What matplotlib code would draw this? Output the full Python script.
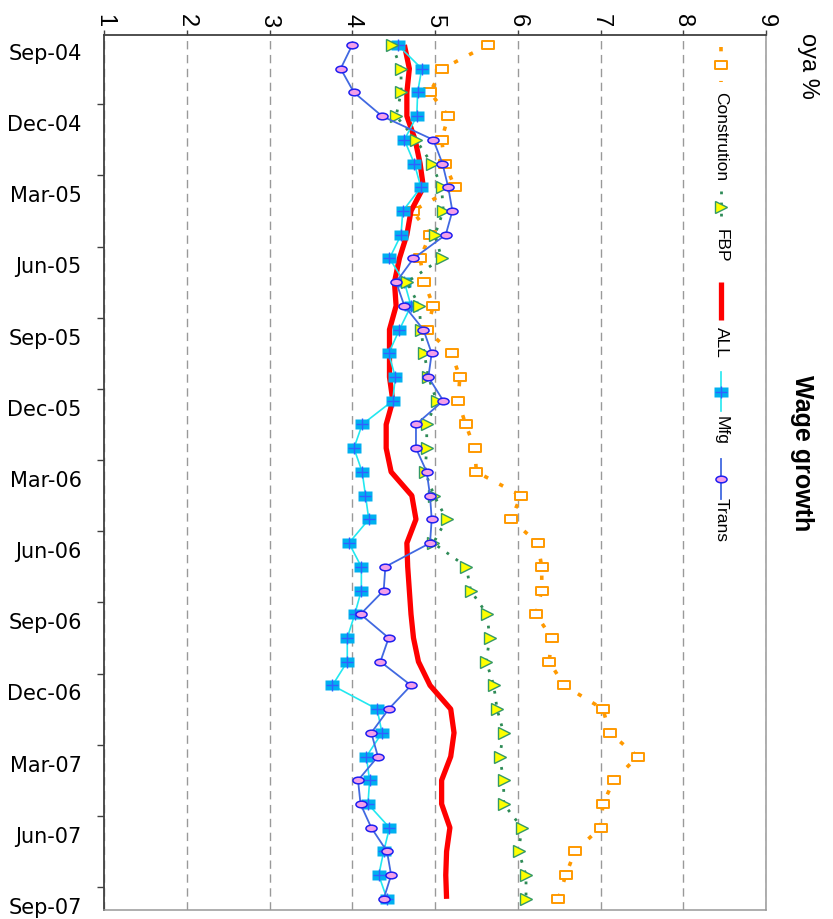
import numpy as np
import matplotlib
matplotlib.use("Agg")
import matplotlib.pyplot as plt
from matplotlib import font_manager
from matplotlib.path import Path
from matplotlib.transforms import Affine2D, ScaledTranslation

# monthly, Sep-04 .. Sep-07
months = ["Sep-04", "Oct-04", "Nov-04", "Dec-04", "Jan-05", "Feb-05", "Mar-05",
          "Apr-05", "May-05", "Jun-05", "Jul-05", "Aug-05", "Sep-05", "Oct-05",
          "Nov-05", "Dec-05", "Jan-06", "Feb-06", "Mar-06", "Apr-06", "May-06",
          "Jun-06", "Jul-06", "Aug-06", "Sep-06", "Oct-06", "Nov-06", "Dec-06",
          "Jan-07", "Feb-07", "Mar-07", "Apr-07", "May-07", "Jun-07", "Jul-07",
          "Aug-07", "Sep-07"]

constr = [5.64, 5.09, 4.94, 5.16, 5.08, 5.12, 5.24, 4.73, 4.94, 4.82, 4.87, 4.98,
          4.90, 5.20, 5.30, 5.28, 5.37, 5.48, 5.50, 6.04, 5.92, 6.24, 6.29, 6.29,
          6.22, 6.41, 6.38, 6.56, 7.03, 7.11, 7.45, 7.16, 7.03, 7.00, 6.69, 6.58,
          6.49]
fbp = [4.48, 4.59, 4.59, 4.53, 4.77, 4.96, 5.08, 5.10, 5.00, 5.08, 4.66, 4.81,
       4.83, 4.87, 4.92, 5.02, 4.90, 4.90, 4.88, 4.99, 5.14, 4.98, 5.38, 5.43,
       5.63, 5.66, 5.62, 5.71, 5.75, 5.83, 5.78, 5.83, 5.83, 6.05, 6.01, 6.10,
       6.10]
all_ = [4.63, 4.69, 4.66, 4.66, 4.76, 4.82, 4.86, 4.71, 4.66, 4.57, 4.51, 4.53,
        4.45, 4.45, 4.45, 4.49, 4.41, 4.41, 4.47, 4.72, 4.77, 4.66, 4.67, 4.69,
        4.71, 4.74, 4.80, 4.94, 5.19, 5.23, 5.19, 5.08, 5.08, 5.18, 5.14, 5.13,
        5.14]
mfg = [4.55, 4.84, 4.79, 4.78, 4.63, 4.75, 4.83, 4.61, 4.59, 4.45, 4.63, 4.71,
       4.57, 4.44, 4.52, 4.49, 4.12, 4.02, 4.12, 4.16, 4.20, 3.96, 4.11, 4.11,
       4.03, 3.94, 3.94, 3.76, 4.30, 4.36, 4.17, 4.21, 4.19, 4.45, 4.38, 4.32,
       4.42]
trans = [4.00, 3.86, 4.02, 4.36, 4.98, 5.09, 5.16, 5.21, 5.13, 4.74, 4.53, 4.63,
         4.86, 4.96, 4.92, 5.10, 4.77, 4.77, 4.90, 4.94, 4.96, 4.94, 4.40, 4.38,
         4.10, 4.44, 4.34, 4.71, 4.44, 4.23, 4.31, 4.07, 4.10, 4.23, 4.42, 4.47,
         4.38]

value_ticks = [1, 2, 3, 4, 5, 6, 7, 8, 9]


def pick_font(*names):
    for n in names:
        try:
            font_manager.findfont(font_manager.FontProperties(family=n),
                                  fallback_to_default=False)
            return n
        except ValueError:
            pass
    return "DejaVu Sans"


narrow = pick_font("Liberation Sans Narrow", "Liberation Sans", "DejaVu Sans")

# custom marker shapes
ellipse = Path.unit_circle().transformed(Affine2D().scale(1.0, 0.6))
rect = Path.unit_rectangle().transformed(Affine2D().translate(-0.5, -0.5).scale(1.45, 1.0))

fig = plt.figure(figsize=(8.33, 9.2), dpi=100)
ax = fig.add_axes([104 / 833, 1 - 911 / 920, 662 / 833, 875 / 920])

rows = np.arange(len(months))

ax.plot(constr, rows, color="#FF9900", lw=2.6, ls=(0, (1.2, 3.5)),
        marker=rect, ms=8, mfc="white", mec="#FF9900", mew=1.4, zorder=2)
ax.plot(all_, rows, color="#FF0000", lw=3.8, solid_capstyle="butt", zorder=3)
ax.plot(mfg, rows, color="#22E8F0", lw=1.2, marker=rect, ms=10,
        mfc="#00B0F0", mec="none", zorder=4)
ax.plot(mfg, rows, ls="none", marker="+", ms=8, mec="#3060FF", mew=1.0, zorder=4)
ax.plot(fbp, rows, color="#2E8B57", lw=2.0, ls=(0, (1, 3)),
        marker=">", ms=9, mfc="#FFFF00", mec="#339966", mew=1.0, zorder=5)
ax.plot(trans, rows, color="#4169E1", lw=1.3, marker=ellipse, ms=8,
        mfc="#F4A0E8", mec="#2020F0", mew=1.1, zorder=6)

ax.set_xlim(1, 9)
ax.set_ylim(36.47, -0.42)

# value axis on top, rotated labels
ax.xaxis.tick_top()
ax.set_xticks(value_ticks)
ax.set_xticklabels([str(v) for v in value_ticks], rotation=-90,
                   fontsize=17, family=narrow)
ax.tick_params(axis="x", length=3.5, width=1, pad=3, color="#404040")
ax.grid(axis="x", ls=(0, (6, 4)), color="#999999", lw=1)

# date axis
ax.set_yticks(rows[::3])
ax.set_yticklabels(months[::3], fontsize=15)
ax.set_yticks(np.arange(2.5, 36, 3), minor=True)
ax.tick_params(axis="y", which="major", length=0, pad=16)
ax.tick_params(axis="y", which="minor", length=5, width=1, color="#404040")
shift = ScaledTranslation(0, -0.06, fig.dpi_scale_trans)
for lab in ax.get_yticklabels():
    lab.set_transform(lab.get_transform() + shift)

for side in ("left", "top"):
    ax.spines[side].set_color("#404040")
    ax.spines[side].set_linewidth(1.3)
for side in ("right", "bottom"):
    ax.spines[side].set_color("#999999")
    ax.spines[side].set_linewidth(1.1)


# hand-drawn vertical legend (rotated chart)
def ax_x(px):
    return (px - 104) / 662


def ax_y(py):
    return 1 - (py - 36) / 875


lx = ax_x(721)
entries = [
    ("Constrution", 48, 83, 92,
     dict(color="#FF9900", lw=2.6, ls=(0, (1.2, 3.5))),
     [dict(marker=rect, ms=8, mfc="white", mec="#FF9900", mew=1.4)]),
    ("FBP", 192, 224, 229,
     dict(color="#2E8B57", lw=2.0, ls=(0, (1, 3))),
     [dict(marker=">", ms=9, mfc="#FFFF00", mec="#339966", mew=1.0)]),
    ("ALL", 283, 321, 327,
     dict(color="#FF0000", lw=3.8, solid_capstyle="butt"), []),
    ("Mfg", 373, 412, 416,
     dict(color="#22E8F0", lw=1.2),
     [dict(marker=rect, ms=10, mfc="#00B0F0", mec="none"),
      dict(marker="+", ms=8, mec="#3060FF", mew=1.0)]),
    ("Trans", 460, 500, 498,
     dict(color="#4169E1", lw=1.3),
     [dict(marker=ellipse, ms=8, mfc="#F4A0E8", mec="#2020F0", mew=1.1)]),
]
for name, y1, y2, ytxt, line_kw, marks in entries:
    ax.plot([lx, lx], [ax_y(y1), ax_y(y2)], transform=ax.transAxes,
            clip_on=False, zorder=7, **line_kw)
    for mk in marks:
        ax.plot([lx], [ax_y((y1 + y2) / 2)], transform=ax.transAxes,
                ls="none", clip_on=False, zorder=8, **mk)
    ax.text(lx, ax_y(ytxt), name, transform=ax.transAxes, rotation=-90,
            ha="center", va="top", fontsize=12.5, family=narrow)

fig.text(802 / 833, 1 - 375 / 920, "Wage growth", rotation=-90, ha="center",
         va="top", fontsize=18, fontweight="bold", family=narrow)
fig.text(808 / 833, 1 - 33 / 920, "oya %", rotation=-90, ha="center",
         va="top", fontsize=17, family=narrow)

fig.savefig("out.png", dpi=100)
